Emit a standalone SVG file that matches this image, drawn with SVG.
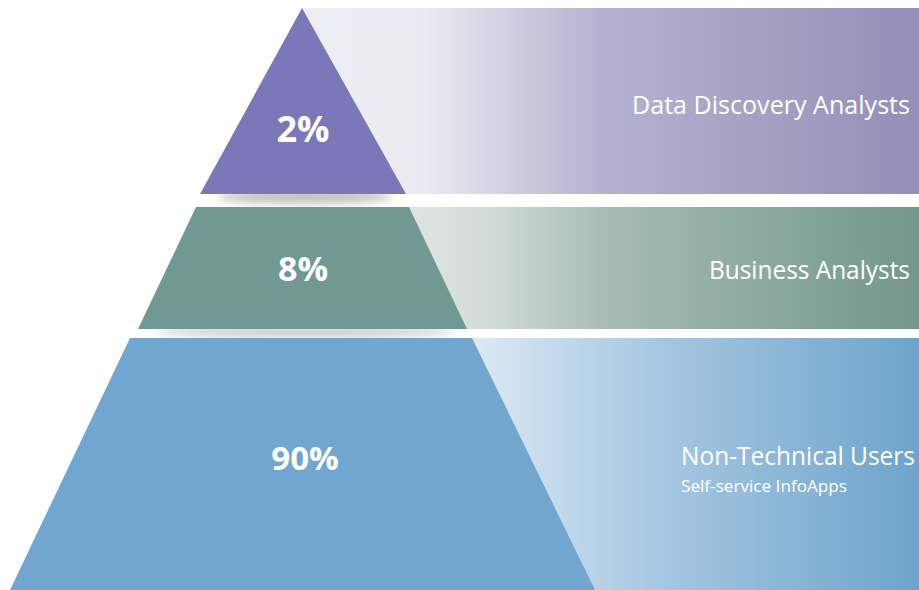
<svg xmlns="http://www.w3.org/2000/svg" width="919" height="590" viewBox="0 0 919 590">
<defs>
<linearGradient id="g1" gradientUnits="userSpaceOnUse" x1="302" y1="0" x2="919" y2="0">
<stop offset="0" stop-color="#EDEDF4"/>
<stop offset="0.2" stop-color="#EBEAF2"/>
<stop offset="0.48" stop-color="#B6B2D0"/>
<stop offset="1" stop-color="#958EB7"/>
</linearGradient>
<linearGradient id="g2" gradientUnits="userSpaceOnUse" x1="409" y1="0" x2="919" y2="0">
<stop offset="0" stop-color="#DEE4E2"/>
<stop offset="0.15" stop-color="#D3DCD8"/>
<stop offset="0.4" stop-color="#A5BAB2"/>
<stop offset="1" stop-color="#74978B"/>
</linearGradient>
<linearGradient id="g3" gradientUnits="userSpaceOnUse" x1="472" y1="0" x2="919" y2="0">
<stop offset="0" stop-color="#DCE8F4"/>
<stop offset="0.4" stop-color="#A8C8E2"/>
<stop offset="1" stop-color="#6EA4CB"/>
</linearGradient>
<radialGradient id="sh" cx="0.5" cy="0" r="0.5" gradientTransform="translate(0.5 0) scale(1 1) translate(-0.5 0)">
<stop offset="0" stop-color="#9A9A9A" stop-opacity="0.75"/>
<stop offset="1" stop-color="#FFFFFF" stop-opacity="0"/>
</radialGradient>
<filter id="blur" x="-20%" y="-100%" width="140%" height="300%">
<feGaussianBlur stdDeviation="4"/>
</filter>
</defs>
<style>
.pct{font-family:"Open Sans","Liberation Sans",sans-serif;font-weight:700;fill:#FFFFFF;text-anchor:middle}
.lbl{font-family:"Open Sans","Liberation Sans",sans-serif;font-weight:400;fill:#FFFFFF}
</style>
<rect width="919" height="590" fill="#FFFFFF"/>
<g id="shadows">
<ellipse cx="305" cy="197" rx="88" ry="6" fill="#A8A8A8" filter="url(#blur)" opacity="0.8"/>
<ellipse cx="305" cy="332" rx="150" ry="5" fill="#B0B0B0" filter="url(#blur)" opacity="0.7"/>
<rect x="0" y="186" width="919" height="8" fill="#FFFFFF" opacity="0"/>
</g>
<g id="node-top">
<rect x="302" y="8" width="617" height="186" fill="url(#g1)"/>
<polygon points="302,8 406,194 200,194" fill="#7A78B8"/>
<text class="pct" x="303" y="142" font-size="36">2%</text>
<text class="lbl" x="632" y="114" font-size="25" textLength="278" lengthAdjust="spacingAndGlyphs">Data Discovery Analysts</text>
</g>
<g id="node-middle">
<rect x="196" y="207" width="723" height="122" fill="url(#g2)"/>
<polygon points="196,207 409,207 467,329 138,329" fill="#719993"/>
<text class="pct" x="303" y="281" font-size="34">8%</text>
<text class="lbl" x="709" y="279" font-size="26" textLength="201" lengthAdjust="spacingAndGlyphs">Business Analysts</text>
</g>
<g id="node-bottom">
<rect x="130" y="338" width="789" height="252" fill="url(#g3)"/>
<polygon points="130,338 472,338 595,590 10,590" fill="#70A6CF"/>
<text class="pct" x="305" y="470" font-size="33">90%</text>
<text class="lbl" x="681" y="465" font-size="26" textLength="234" lengthAdjust="spacingAndGlyphs">Non-Technical Users</text>
<text class="lbl" x="681" y="492" font-size="17" textLength="166" lengthAdjust="spacingAndGlyphs">Self-service InfoApps</text>
</g>
<g id="connectors"></g>
</svg>
